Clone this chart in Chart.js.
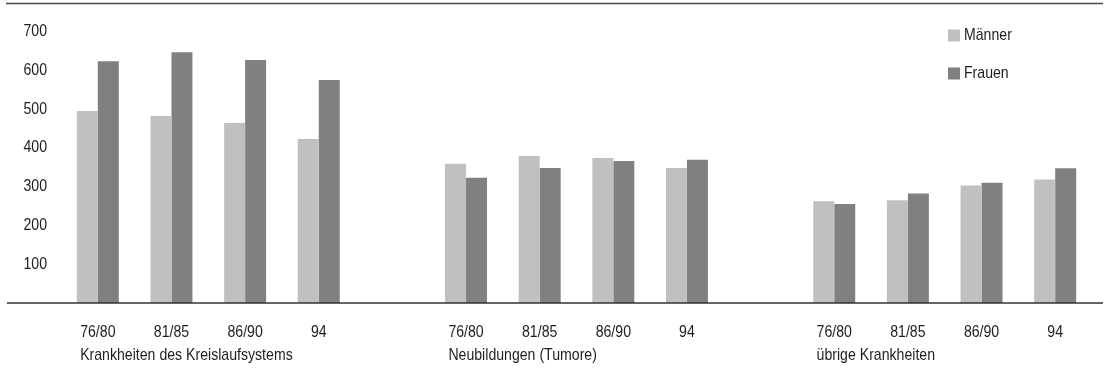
<!DOCTYPE html>
<html>
<head>
<meta charset="utf-8">
<script src="https://cdn.jsdelivr.net/npm/chart.js@4.4.1/dist/chart.umd.min.js"></script>
<style>
  html, body { margin: 0; padding: 0; background: #ffffff; }
  #wrap { width: 1107px; height: 371px; position: relative; }
</style>
</head>
<body>
<div id="wrap"><canvas id="c" width="1107" height="371"></canvas></div>
<script>
// ---- data ----
const periods = ['76/80', '81/85', '86/90', '94'];
const groups = ['Krankheiten des Kreislaufsystems', 'Neubildungen (Tumore)', 'übrige Krankheiten'];
const maennerKreislauf = [495, 482, 464, 423];
const maennerTumore    = [359, 379, 374, 348];
const maennerUebrige   = [262, 265, 303, 318];
const frauenKreislauf  = [623, 646, 626, 575];
const frauenTumore     = [323, 348, 366, 369];
const frauenUebrige    = [255, 282, 310, 347];
const yTickValues = [100, 200, 300, 400, 500, 600, 700];
const seriesNames = ['Männer', 'Frauen'];
const seriesColors = ['#c0c0c0', '#808080'];

// build category axis with an empty slot between groups
const labels = [];
const groupStart = [];
const maenner = [];
const frauen = [];
[[maennerKreislauf, frauenKreislauf], [maennerTumore, frauenTumore], [maennerUebrige, frauenUebrige]]
  .forEach(([m, f], gi) => {
    if (gi > 0) { labels.push(''); maenner.push(null); frauen.push(null); }
    groupStart.push(labels.length);
    periods.forEach((p, i) => { labels.push(p); maenner.push(m[i]); frauen.push(f[i]); });
  });

const FONT = "'Liberation Sans', Arial, sans-serif";
const TEXT = '#1e1e1e';
const SQUEEZE = 0.83;   // emulate a condensed face
const FSIZE = 17;

function narrowText(ctx, str, x, y, align) {
  ctx.save();
  ctx.font = FSIZE + 'px ' + FONT;
  ctx.textBaseline = 'middle';
  ctx.textAlign = 'left';
  const w = ctx.measureText(str).width * SQUEEZE;
  let x0 = x;
  if (align === 'center') x0 = x - w / 2;
  else if (align === 'right') x0 = x - w;
  ctx.translate(x0, y);
  ctx.scale(SQUEEZE, 1);
  ctx.fillText(str, 0, 0);
  ctx.restore();
  return w;
}
function narrowWidth(ctx, str) {
  ctx.save();
  ctx.font = FSIZE + 'px ' + FONT;
  const w = ctx.measureText(str).width * SQUEEZE;
  ctx.restore();
  return w;
}

const decor = {
  id: 'decor',
  afterDraw(chart) {
    const ctx = chart.ctx;
    const xs = chart.scales.x;
    const ys = chart.scales.y;
    const W = chart.width;
    ctx.save();
    // top rule
    ctx.strokeStyle = '#4a4a4a';
    ctx.lineWidth = 1.5;
    ctx.beginPath(); ctx.moveTo(6, 3.5); ctx.lineTo(W - 4, 3.5); ctx.stroke();
    // baseline
    const yb = ys.getPixelForValue(0);
    ctx.strokeStyle = '#333333';
    ctx.lineWidth = 1.6;
    ctx.beginPath(); ctx.moveTo(7, yb); ctx.lineTo(W - 4, yb); ctx.stroke();
    ctx.fillStyle = TEXT;
    // y tick labels (from the scale's ticks)
    ys.ticks.forEach(t => {
      narrowText(ctx, String(t.value), 47, ys.getPixelForValue(t.value), 'right');
    });
    // x tick labels (from the category scale)
    labels.forEach((lab, i) => {
      if (lab) narrowText(ctx, lab, xs.getPixelForValue(i), yb + 29, 'center');
    });
    // group labels, left aligned under the first period label
    groups.forEach((g, i) => {
      const cx = xs.getPixelForValue(groupStart[i]);
      const w = narrowWidth(ctx, periods[0]);
      narrowText(ctx, g, cx - w / 2, yb + 52, 'left');
    });
    // legend
    seriesNames.forEach((n, i) => {
      const ly = 35.5 + i * 38;
      ctx.fillStyle = seriesColors[i];
      ctx.fillRect(948, ly - 6, 12, 12);
      ctx.fillStyle = TEXT;
      narrowText(ctx, n, 964, ly, 'left');
    });
    ctx.restore();
  }
};

new Chart(document.getElementById('c'), {
  type: 'bar',
  data: {
    labels: labels,
    datasets: [
      { label: seriesNames[0], data: maenner, backgroundColor: seriesColors[0], borderWidth: 0 },
      { label: seriesNames[1], data: frauen, backgroundColor: seriesColors[1], borderWidth: 0 }
    ]
  },
  options: {
    responsive: false,
    animation: false,
    events: [],
    layout: { padding: { top: 12, right: 15, left: 0, bottom: 0 } },
    datasets: { bar: { categoryPercentage: 0.57, barPercentage: 1.0 } },
    plugins: { legend: { display: false }, tooltip: { enabled: false } },
    scales: {
      x: {
        grid: { display: false, drawTicks: false },
        border: { display: false },
        ticks: { display: false, autoSkip: false, maxRotation: 0, minRotation: 0 },
        afterFit(s) { s.height = 68; }
      },
      y: {
        min: 0, max: 750,
        grid: { display: false, drawTicks: false },
        border: { display: false },
        ticks: { display: false },
        afterBuildTicks(s) { s.ticks = yTickValues.map(v => ({ value: v })); },
        afterFit(s) { s.width = 61; }
      }
    }
  },
  plugins: [decor]
});
</script>
</body>
</html>
